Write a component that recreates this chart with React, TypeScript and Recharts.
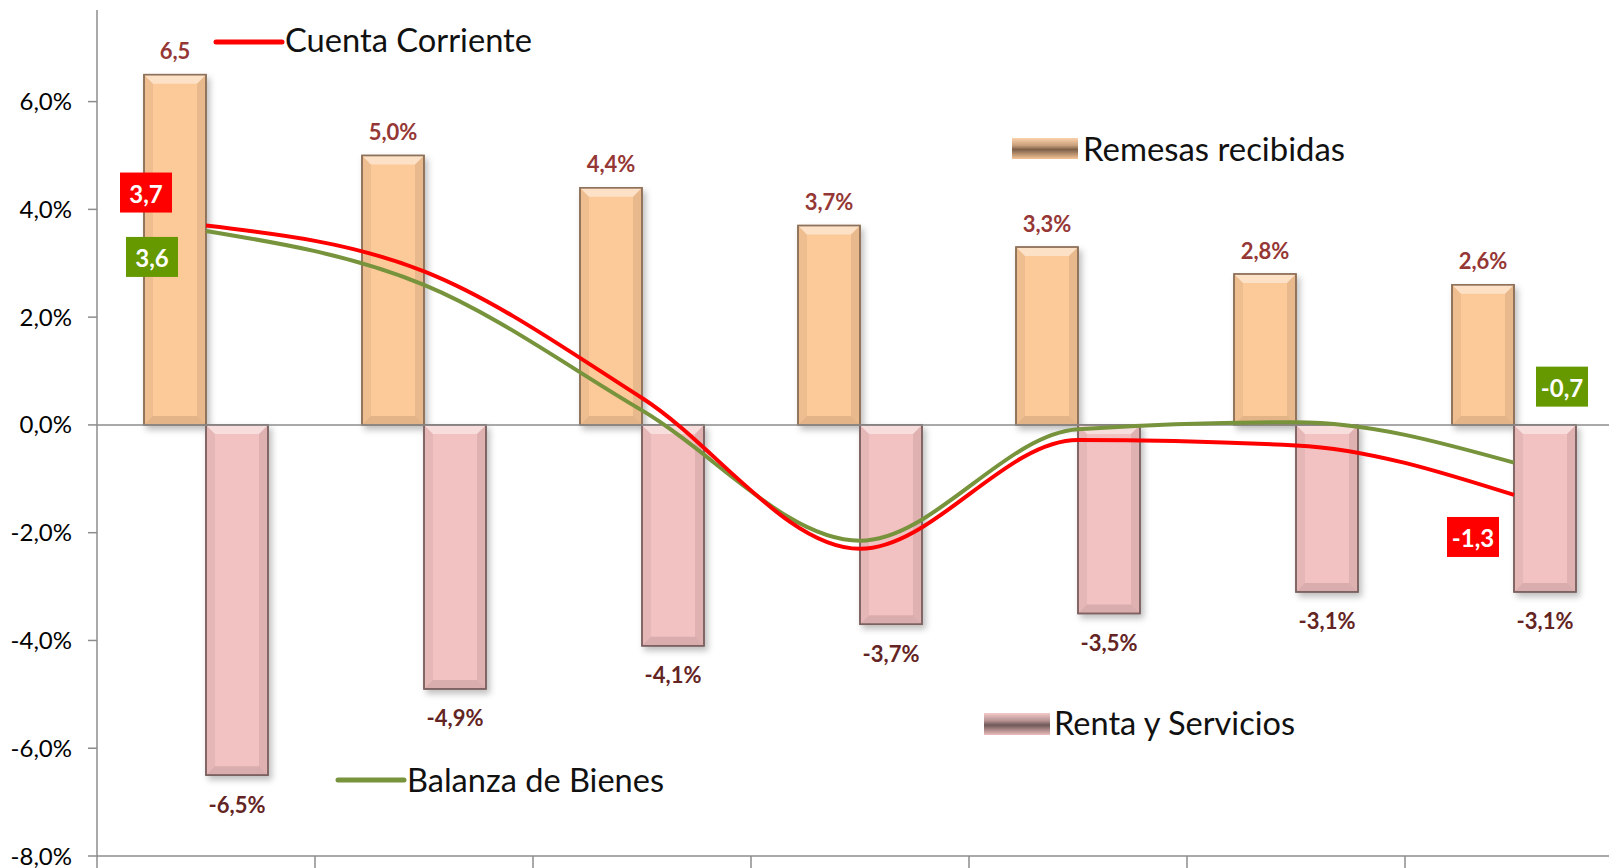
import { ComposedChart, Bar, Line, XAxis, YAxis, ReferenceLine, LabelList } from 'recharts';

// x categories are not labelled in the picture
const periods = ['P1', 'P2', 'P3', 'P4', 'P5', 'P6', 'P7'];
const remesas = [6.5, 5.0, 4.4, 3.7, 3.3, 2.8, 2.6];
const renta = [-6.5, -4.9, -4.1, -3.7, -3.5, -3.1, -3.1];
const cuenta = [3.7, 2.85, 0.5, -2.3, -0.28, -0.38, -1.3];
const balanza = [3.6, 2.6, 0.27, -2.15, -0.08, 0.05, -0.7];
const remesasLabels = ['6,5', '5,0%', '4,4%', '3,7%', '3,3%', '2,8%', '2,6%'];
const rentaLabels = ['-6,5%', '-4,9%', '-4,1%', '-3,7%', '-3,5%', '-3,1%', '-3,1%'];
const yTicks = [-8, -6, -4, -2, 0, 2, 4, 6];

const data = periods.map((p, i) => ({
  name: p,
  remesas: remesas[i],
  renta: renta[i],
  cuenta: cuenta[i],
  balanza: balanza[i],
}));

const FONT = 'Lato, "Open Sans", sans-serif';

const bevelBar = (fill: string, edge: string) => (props: any) => {
  let { x, y, width: w, height: h } = props;
  if (h < 0) { y = y + h; h = -h; }
  const b = Math.min(9, h / 2);
  return (
    <g filter="url(#barShadow)">
      <rect x={x} y={y} width={w} height={h} fill={fill} stroke={edge} strokeWidth={1.5} />
      <polygon points={`${x},${y} ${x + w},${y} ${x + w - b},${y + b} ${x + b},${y + b}`} fill="#fff" fillOpacity={0.45} />
      <polygon points={`${x},${y + h} ${x + w},${y + h} ${x + w - b},${y + h - b} ${x + b},${y + h - b}`} fill="#000" fillOpacity={0.1} />
      <polygon points={`${x},${y} ${x + b},${y + b} ${x + b},${y + h - b} ${x},${y + h}`} fill="#000" fillOpacity={0.05} />
      <polygon points={`${x + w},${y} ${x + w - b},${y + b} ${x + w - b},${y + h - b} ${x + w},${y + h}`} fill="#000" fillOpacity={0.08} />
      <rect x={x} y={y} width={w} height={h} fill="none" stroke={edge} strokeWidth={1.5} />
    </g>
  );
};

const remesasLabel = (p: any) => {
  const { x, y, width, index } = p;
  return (
    <text x={x + width / 2} y={y - 24} textAnchor="middle" dominantBaseline="central"
      fontFamily={FONT} fontWeight={700} fontSize={22} fill="#953735">{remesasLabels[index]}</text>
  );
};

const rentaLabel = (p: any) => {
  const { x, y, width, height, index } = p;
  const bottom = Math.max(y, y + height);
  return (
    <text x={x + width / 2} y={bottom + 29} textAnchor="middle" dominantBaseline="central"
      fontFamily={FONT} fontWeight={700} fontSize={22} fill="#632423">{rentaLabels[index]}</text>
  );
};

const boxLabel = (bg: string, offsets: Record<number, [number, number]>, texts: Record<number, string>) => (p: any) => {
  const { x, y, index } = p;
  const off = offsets[index];
  if (!off) return null;
  const cx = x + off[0];
  const cy = y + off[1];
  return (
    <g>
      <rect x={cx - 26} y={cy - 20} width={52} height={40} fill={bg} />
      <text x={cx} y={cy + 1} textAnchor="middle" dominantBaseline="central"
        fontFamily={FONT} fontWeight={700} fontSize={24} fill="#fff">{texts[index]}</text>
    </g>
  );
};

const XTick = (p: any) => {
  const { x, y, payload } = p;
  const bx = x - (payload.offset || 0);
  return <line x1={bx} y1={y - 8} x2={bx} y2={y + 12} stroke="#8c8c8c" strokeWidth={1.5} />;
};

export default function App() {
  return (
    <div style={{ position: 'relative', width: 1609, height: 868, overflow: 'hidden', background: '#fff' }}>
      <style>{'body{margin:0;overflow:hidden}'}</style>
      <ComposedChart width={1640} height={868} data={data} barGap={0}
        margin={{ top: 10, right: 17, bottom: 0, left: 0 }}>
        <defs>
          <filter id="barShadow" x="-20%" y="-10%" width="140%" height="130%">
            <feDropShadow dx={3} dy={4} stdDeviation={3} floodColor="#000" floodOpacity={0.25} />
          </filter>
        </defs>
        <XAxis dataKey="name" height={12} axisLine={{ stroke: '#8c8c8c', strokeWidth: 1.5 }}
          tickLine={false} tick={<XTick />} interval={0} />
        <YAxis width={97} domain={[-8, 7.7]} ticks={yTicks} allowDataOverflow interval={0}
          axisLine={{ stroke: '#8c8c8c', strokeWidth: 1.5 }}
          tickLine={{ stroke: '#8c8c8c', strokeWidth: 1.5 }} tickSize={9} tickMargin={16}
          tickFormatter={(v: number) => v.toFixed(1).replace('.', ',') + '%'}
          tick={{ fontFamily: FONT, fontSize: 24, fill: '#000' }} />
        <ReferenceLine y={0} stroke="#8c8c8c" strokeWidth={1.5} />
        <Bar dataKey="remesas" barSize={62} isAnimationActive={false}
          shape={bevelBar('#FCC998', '#8f7058')}>
          <LabelList dataKey="remesas" content={remesasLabel} />
        </Bar>
        <Bar dataKey="renta" barSize={62} isAnimationActive={false}
          shape={bevelBar('#F2C1C1', '#7d6262')}>
          <LabelList dataKey="renta" content={rentaLabel} />
        </Bar>
        <Line type="monotone" dataKey="balanza" stroke="#77933C" strokeWidth={4} dot={false} isAnimationActive={false}>
          <LabelList dataKey="balanza" content={boxLabel('#669900', { 0: [-54, 26], 6: [48, -76] }, { 0: '3,6', 6: '-0,7' })} />
        </Line>
        <Line type="monotone" dataKey="cuenta" stroke="#FF0000" strokeWidth={4} dot={false} isAnimationActive={false}>
          <LabelList dataKey="cuenta" content={boxLabel('#FF0000', { 0: [-60, -33], 6: [-41, 42] }, { 0: '3,7', 6: '-1,3' })} />
        </Line>
      </ComposedChart>
      <svg width={1609} height={868} style={{ position: 'absolute', left: 0, top: 0, pointerEvents: 'none' }}>
        <defs>
          <linearGradient id="swRem" x1="0" y1="0" x2="0" y2="1">
            <stop offset="0" stopColor="#FBD2AA" />
            <stop offset="0.35" stopColor="#C9A07C" />
            <stop offset="0.55" stopColor="#7E6048" />
            <stop offset="1" stopColor="#F6C597" />
          </linearGradient>
          <linearGradient id="swRen" x1="0" y1="0" x2="0" y2="1">
            <stop offset="0" stopColor="#F4CACA" />
            <stop offset="0.35" stopColor="#B79393" />
            <stop offset="0.55" stopColor="#6f5858" />
            <stop offset="1" stopColor="#EDBDBD" />
          </linearGradient>
        </defs>
        <line x1={216} y1={42} x2={282} y2={42} stroke="#FF0000" strokeWidth={5} strokeLinecap="round" />
        <text x={285} y={52} fontFamily={FONT} fontSize={32} fill="#111" textLength={247} lengthAdjust="spacingAndGlyphs">Cuenta Corriente</text>
        <rect x={1012} y={138} width={66} height={21} fill="url(#swRem)" />
        <text x={1083} y={161} fontFamily={FONT} fontSize={32} fill="#111" textLength={262} lengthAdjust="spacingAndGlyphs">Remesas recibidas</text>
        <rect x={984} y={713} width={66} height={22} fill="url(#swRen)" />
        <text x={1054} y={735} fontFamily={FONT} fontSize={32} fill="#111" textLength={241} lengthAdjust="spacingAndGlyphs">Renta y Servicios</text>
        <line x1={338} y1={780} x2={404} y2={780} stroke="#77933C" strokeWidth={5} strokeLinecap="round" />
        <text x={407} y={792} fontFamily={FONT} fontSize={32} fill="#111" textLength={257} lengthAdjust="spacingAndGlyphs">Balanza de Bienes</text>
      </svg>
    </div>
  );
}
